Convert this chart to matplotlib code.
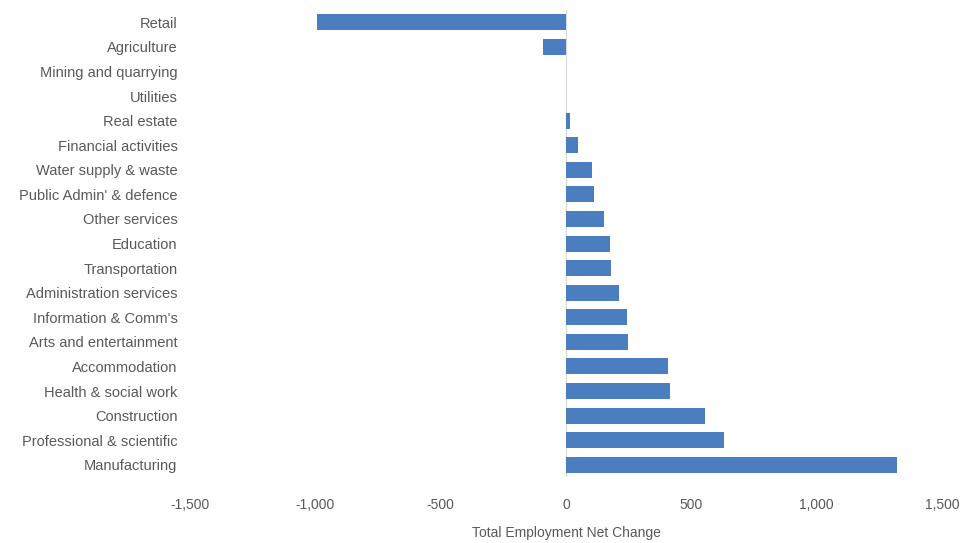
import matplotlib
matplotlib.use("Agg")
import matplotlib.pyplot as plt
import numpy as np

# sectors, top to bottom as in the chart
sectors = ["Retail", "Agriculture", "Mining and quarrying", "Utilities", "Real estate",
           "Financial activities", "Water supply & waste", "Public Admin' & defence",
           "Other services", "Education", "Transportation", "Administration services",
           "Information & Comm's", "Arts and entertainment", "Accommodation",
           "Health & social work", "Construction", "Professional & scientific",
           "Manufacturing"]
net_change = [-995, -91, 0, 0, 17, 46, 102, 110, 151, 177, 178, 212, 245, 248,
              406, 414, 553, 631, 1319]
x_ticks = [-1500, -1000, -500, 0, 500, 1000, 1500]

plt.rcParams['font.family'] = ['Liberation Sans', 'DejaVu Sans']
grey = '#595959'

fig = plt.figure(figsize=(9.66, 5.43), dpi=100)
ax = fig.add_axes([0.1967, 0.1215, 0.7785, 0.86])

ind = np.arange(len(sectors))
ax.barh(ind, net_change, height=0.65, color='#4A7EBF')
ax.axvline(0, color='#d9d9d9', lw=0.8, zorder=0)

ax.set_ylim(len(sectors) - 0.5, -0.5)
ax.set_yticks(ind)
ax.set_yticklabels(sectors, fontsize=10.5, color=grey)
ax.set_xlim(-1500, 1500)
ax.set_xticks(x_ticks)
ax.set_xticklabels([f"{v:,}" for v in x_ticks], fontsize=10, color=grey, va='baseline')
ax.set_xlabel("Total Employment Net Change", fontsize=10, color=grey, labelpad=10)
ax.tick_params(length=0, axis='y', pad=9)
ax.tick_params(length=0, axis='x', pad=23)
for s in ax.spines.values():
    s.set_visible(False)

fig.savefig("out.png", dpi=100)
